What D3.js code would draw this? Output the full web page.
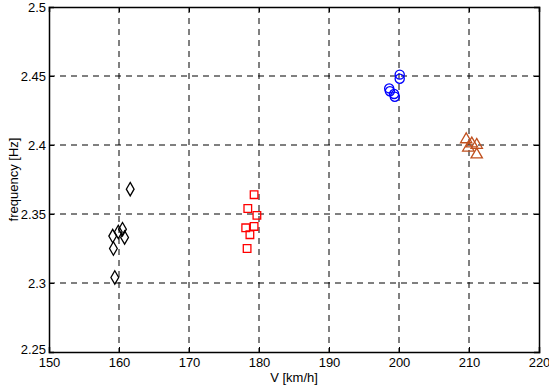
<!DOCTYPE html>
<html>
<head>
<meta charset="utf-8">
<script src="https://cdn.jsdelivr.net/npm/d3@7"></script>
<style>
  html, body { margin: 0; padding: 0; background: #fff; }
  svg { display: block; font-family: "Liberation Sans", Arial, sans-serif; }
</style>
</head>
<body>
<svg id="chart" width="549" height="389"></svg>
<script>
// Measured frequency against train speed, four speed groups
const xTicks = [150, 160, 170, 180, 190, 200, 210, 220];
const yTicks = [2.25, 2.3, 2.35, 2.4, 2.45, 2.5];
const yTickLabels = ["2.25", "2.3", "2.35", "2.4", "2.45", "2.5"];

const speed160 = [161.6, 160.5, 159.9, 159.1, 160.8, 159.2, 159.4];
const freq160  = [2.368, 2.339, 2.337, 2.334, 2.333, 2.325, 2.304];

const speed180 = [179.3, 178.4, 179.7, 178.1, 179.3, 178.7, 178.3];
const freq180  = [2.364, 2.354, 2.349, 2.340, 2.341, 2.335, 2.325];

const speed200 = [200.1, 200.1, 198.6, 198.7, 199.3, 199.4];
const freq200  = [2.451, 2.448, 2.441, 2.439, 2.437, 2.435];

const speed210 = [209.6, 210.4, 211.1, 209.9, 211.1];
const freq210  = [2.404, 2.401, 2.400, 2.398, 2.393];

const xLabel = "V [km/h]";
const yLabel = "frequency [Hz]";

const margin = { left: 49, top: 7, right: 10, bottom: 37 };
const W = 549, H = 389;
const iw = W - margin.left - margin.right;   // 490
const ih = H - margin.top - margin.bottom;   // 345

const x = d3.scaleLinear().domain([150, 220]).range([0, iw]);
const y = d3.scaleLinear().domain([2.25, 2.5]).range([ih, 0]);

const svg = d3.select("#chart");
const g = svg.append("g").attr("transform", `translate(${margin.left},${margin.top})`);

// dashed grid
g.append("g").selectAll("line").data(xTicks.slice(1, -1)).join("line")
  .attr("x1", d => x(d)).attr("x2", d => x(d))
  .attr("y1", 0).attr("y2", ih)
  .attr("stroke", "#000").attr("stroke-width", 1)
  .attr("stroke-dasharray", "6,5");
g.append("g").selectAll("line").data(yTicks.slice(1, -1)).join("line")
  .attr("y1", d => y(d)).attr("y2", d => y(d))
  .attr("x1", 0).attr("x2", iw)
  .attr("stroke", "#000").attr("stroke-width", 1)
  .attr("stroke-dasharray", "6,5");

// axes with inward ticks on all four sides
const tickLen = 5;
const axBottom = g.append("g").attr("transform", `translate(0,${ih})`)
  .call(d3.axisBottom(x).tickValues(xTicks).tickSize(-tickLen).tickPadding(6).tickFormat(d3.format("d")));
const axTop = g.append("g")
  .call(d3.axisTop(x).tickValues(xTicks).tickSize(-tickLen).tickFormat(""));
const axLeft = g.append("g")
  .call(d3.axisLeft(y).tickValues(yTicks).tickSize(-tickLen).tickPadding(3)
    .tickFormat((d, i) => yTickLabels[i]));
const axRight = g.append("g").attr("transform", `translate(${iw},0)`)
  .call(d3.axisRight(y).tickValues(yTicks).tickSize(-tickLen).tickFormat(""));

[axBottom, axTop, axLeft, axRight].forEach(a => {
  a.select(".domain").attr("stroke", "#000").attr("stroke-width", 1.5);
  a.selectAll(".tick line").attr("stroke", "#000").attr("stroke-width", 1);
  a.selectAll("text").attr("fill", "#000").attr("font-size", 13)
    .attr("font-family", "'Liberation Sans', Arial, sans-serif");
});
// lowest y label sits a touch higher so it clears the first x label
axLeft.selectAll(".tick text").filter(d => d === yTicks[0]).attr("dy", "0.1em");

// axis titles
svg.append("text")
  .attr("x", margin.left + iw / 2).attr("y", 382)
  .attr("text-anchor", "middle").attr("font-size", 13).attr("fill", "#000")
  .text(xLabel);
svg.append("text")
  .attr("transform", `translate(18,${margin.top + ih / 2}) rotate(-90)`)
  .attr("text-anchor", "middle").attr("font-size", 13).attr("fill", "#000")
  .text(yLabel);

// marker groups
const groups = [
  { v: speed160, f: freq160, type: d3.symbolDiamond,  size: 52, color: "#000000" },
  { v: speed180, f: freq180, type: d3.symbolSquare,   size: 58, color: "#ff0000" },
  { v: speed200, f: freq200, type: d3.symbolCircle,   size: 66, color: "#0000ff" },
  { v: speed210, f: freq210, type: d3.symbolTriangle, size: 56, color: "#c0501e" }
];

groups.forEach(grp => {
  const pts = grp.v.map((v, i) => [v, grp.f[i]]);
  g.append("g").selectAll("path").data(pts).join("path")
    .attr("transform", d => `translate(${x(d[0])},${y(d[1])})`)
    .attr("d", d3.symbol().type(grp.type).size(grp.size))
    .attr("fill", "none")
    .attr("stroke", grp.color)
    .attr("stroke-width", 1.3);
});
</script>
</body>
</html>
